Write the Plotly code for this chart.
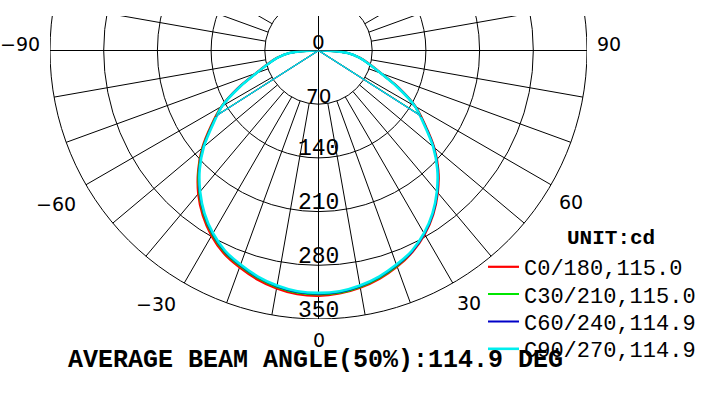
import math
import plotly.graph_objects as go

# ---------------- data ----------------
gamma = [0, 5, 10, 15, 20, 25, 30, 35, 40, 45, 50, 55, 60, 65, 70, 75, 80, 85, 90]
c0   = [319, 318, 314, 308, 300, 290, 277, 261, 242, 221, 197, 170, 146, 116, 87, 69, 55, 38, 0]
c180 = [320, 319, 315, 309, 301, 292, 279, 263, 244, 222, 198, 171, 146, 116, 87, 69, 55, 38, 0]
c30  = [318, 317, 313, 307, 299, 289, 276, 260, 241, 220, 196, 169, 145, 115, 86, 68, 54, 38, 0]
c210 = [318, 317, 313, 307, 299, 290, 277, 261, 242, 221, 197, 170, 146, 115, 86, 68, 54, 38, 0]
c60  = [317, 316, 312, 306, 298, 289, 276, 260, 241, 220, 196, 169, 145, 115, 86, 68, 54, 38, 0]
c240 = [317, 316, 312, 306, 298, 289, 276, 260, 241, 220, 196, 169, 145, 115, 86, 68, 54, 38, 0]
c90  = [316, 315, 311, 305, 297, 288, 275, 259, 240, 219, 195, 168, 145, 114, 86, 68, 54, 38, 0]
c270 = [316, 315, 311, 305, 297, 288, 275, 259, 240, 219, 195, 168, 145, 114, 86, 68, 54, 38, 0]

plane_names = ["C0/180", "C30/210", "C60/240", "C90/270"]
right_side = [c0, c30, c60, c90]
left_side = [c180, c210, c240, c270]
beam_angles = [115.0, 115.0, 114.9, 114.9]
avg_beam_text = "114.9"
ring_values = [0, 70, 140, 210, 280, 350]
angle_labels = [-90, -60, -30, 0, 30, 60, 90]
spoke_step = 10
unit = "cd"

# ---------------- styles / geometry ----------------
colors = ["#ff0000", "#00e600", "#0000c8", "#00eeee"]
widths = [2.2, 2.0, 2.0, 2.6]
W, H = 712, 395
CX, CY, RPX = 318.5, 50.5, 268.5
TOP = 16
RMAX = ring_values[-1]
MONO = "Liberation Mono"
SANS = "DejaVu Sans"


def paper(x, y):
    return x / W, 1 - y / H


def circle_px(r, a):
    k = RPX / RMAX
    return CX + k * r * math.sin(math.radians(a)), CY + k * r * math.cos(math.radians(a))


fig = go.Figure()

# light distribution curves (polar)
for i, name in enumerate(plane_names):
    theta = [-g for g in gamma[::-1]] + gamma[1:]
    r = left_side[i][::-1] + right_side[i][1:]
    lg = "legend" if i == 0 else "legend%d" % (i + 1)
    fig.add_trace(go.Scatterpolar(
        theta=theta, r=r, mode="lines",
        line=dict(color=colors[i], width=widths[i], shape="spline", smoothing=0.8),
        name="%s,%.1f" % (name, beam_angles[i]), legend=lg,
        subplot="polar", hoverinfo="skip"))
for i, name in enumerate(plane_names):
    half = beam_angles[i] / 2
    imax = max(max(left_side[i]), max(right_side[i]))
    fig.add_trace(go.Scatterpolar(
        theta=[-half, 0, half], r=[imax / 2, 0, imax / 2], mode="lines",
        line=dict(color=colors[i], width=1.1), showlegend=False,
        subplot="polar", hoverinfo="skip"))

# invisible cartesian frame for the grid (same scale as polar)
fig.add_trace(go.Scatter(x=[0], y=[0], mode="markers", marker=dict(opacity=0),
                         showlegend=False, hoverinfo="skip"))

shapes = []
for rv in ring_values[1:]:
    shapes.append(dict(type="circle", xref="x", yref="y", x0=-rv, y0=-rv, x1=rv, y1=rv,
                       line=dict(color="black", width=1), layer="below"))
for a in range(0, 360, spoke_step):
    r0 = 0 if a % 90 == 0 else ring_values[1]
    s, c = math.sin(math.radians(a)), math.cos(math.radians(a))
    shapes.append(dict(type="line", xref="x", yref="y",
                       x0=r0 * s, y0=-r0 * c, x1=RMAX * s, y1=-RMAX * c,
                       line=dict(color="black", width=1), layer="below"))

annotations = []
# radial labels
for rv in ring_values:
    px, py = circle_px(rv, 0)
    font = dict(family=SANS, size=20, color="black") if rv < 100 else dict(family=MONO, size=23, color="black")
    xp, yp = paper(px, py - 8.5)
    annotations.append(dict(text=str(rv), x=xp, y=yp, xref="paper", yref="paper",
                            xanchor="center", yanchor="middle", showarrow=False, font=font))
# angle labels
angle_offsets = {-90: (-8, -6.5), 90: (8, -7), -60: (-8, 19), 60: (6, 17),
                 -30: (-6, 21), 30: (2, 19.5), 0: (0, 21)}
for a in angle_labels:
    px, py = circle_px(RMAX, a)
    dx, dy = angle_offsets[a]
    xp, yp = paper(px + dx, py + dy)
    anchor = "center" if a == 0 else ("left" if a > 0 else "right")
    txt = str(a).replace("-", "\u2212")
    annotations.append(dict(text=txt, x=xp, y=yp, xref="paper", yref="paper",
                            xanchor=anchor, yanchor="middle", showarrow=False,
                            font=dict(family=SANS, size=19, color="black")))
xp, yp = paper(611, 238)
annotations.append(dict(text="<b>UNIT:%s</b>" % unit, x=xp, y=yp, xref="paper", yref="paper",
                        xanchor="center", yanchor="middle", showarrow=False,
                        font=dict(family=MONO, size=21, color="black")))
xp, yp = paper(66, 360.5)
annotations.append(dict(text="<b>AVERAGE BEAM ANGLE(50%%):%s DEG</b>" % avg_beam_text,
                        x=xp, y=yp, xref="paper", yref="paper",
                        xanchor="left", yanchor="middle", showarrow=False,
                        font=dict(family=MONO, size=25, color="black")))

layout = dict(
    width=W, height=H, autosize=False,
    margin=dict(l=0, r=0, t=0, b=0, pad=0),
    paper_bgcolor="white", plot_bgcolor="rgba(0,0,0,0)",
    shapes=shapes, annotations=annotations,
    polar=dict(
        domain=dict(x=[(CX - RPX) / W, (CX + RPX) / W], y=[1 - (CY + RPX) / H, 1 - CY / H]),
        sector=[180, 360], bgcolor="rgba(0,0,0,0)",
        radialaxis=dict(range=[0, RMAX], visible=False),
        angularaxis=dict(rotation=-90, direction="counterclockwise", visible=False),
    ),
    xaxis=dict(domain=[(CX - RPX) / W, (CX + RPX) / W], range=[-RMAX, RMAX], visible=False, fixedrange=True),
    yaxis=dict(domain=[1 - (CY + RPX) / H, 1 - TOP / H], range=[-RMAX, (CY - TOP) / RPX * RMAX],
               visible=False, fixedrange=True),
)
legend_rows = [267, 294.3, 321.6, 349]
for i, ly in enumerate(legend_rows):
    key = "legend" if i == 0 else "legend%d" % (i + 1)
    layout[key] = dict(x=483 / W, xanchor="left", y=1 - ly / H, yanchor="middle",
                       itemwidth=31, bgcolor="rgba(0,0,0,0)", borderwidth=0,
                       font=dict(family=MONO, size=22, color="black"))
fig.update_layout(**layout)
fig.write_html("out.html")
